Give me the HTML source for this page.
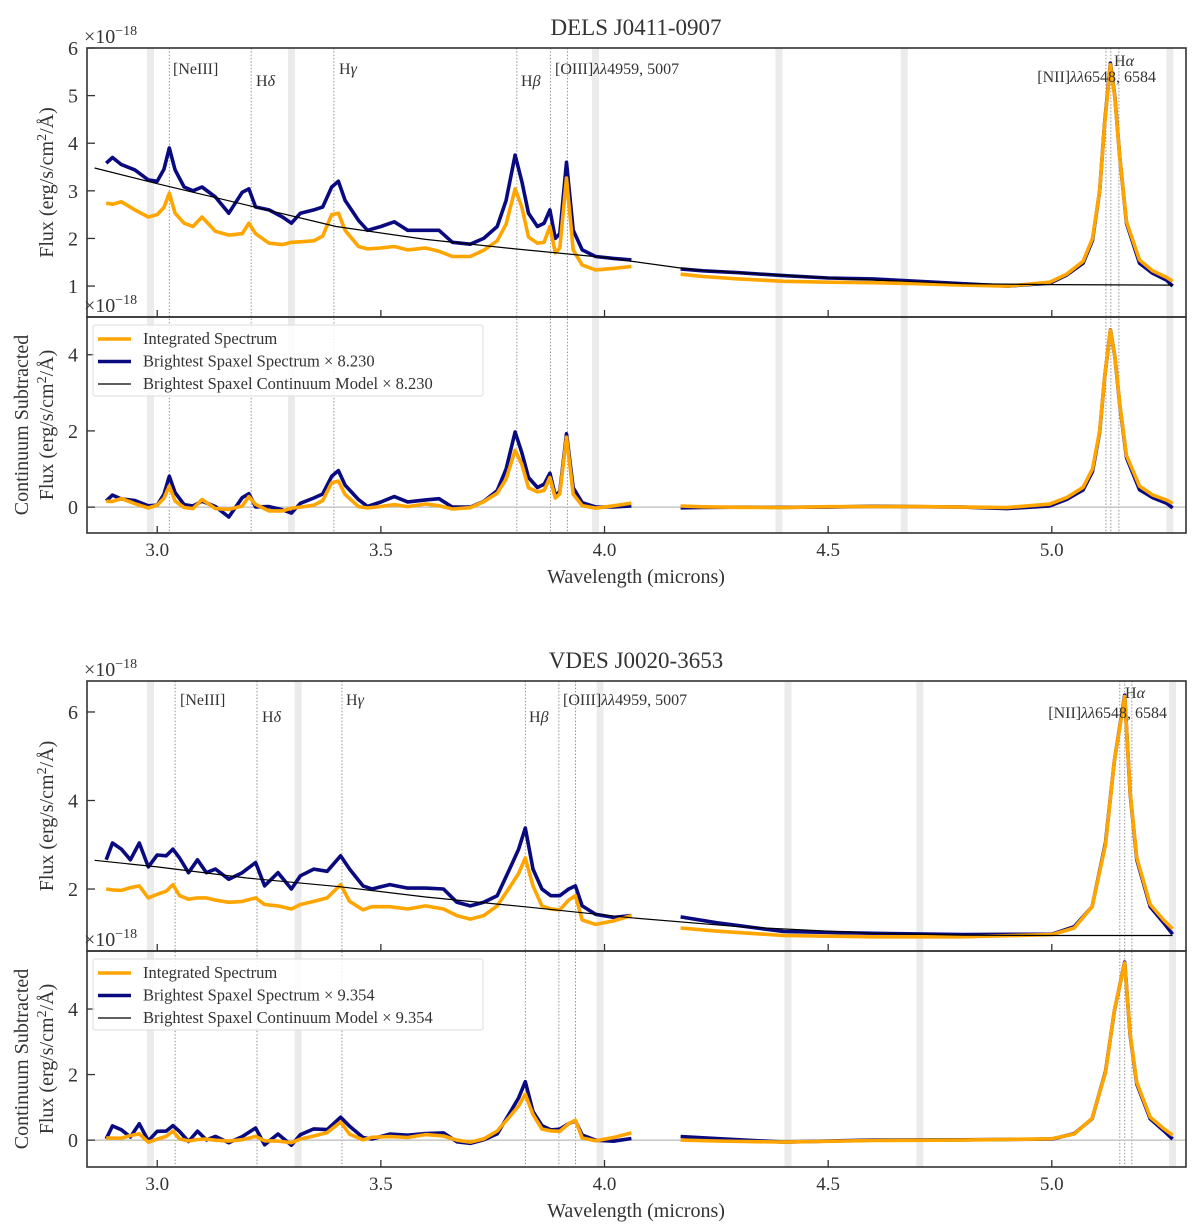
<!DOCTYPE html>
<html><head><meta charset="utf-8"><style>
html,body{margin:0;padding:0;background:#fff}
svg{display:block}
text{font-family:"Liberation Serif","DejaVu Serif",serif;fill:#333}
</style></head><body>
<svg id="chart" width="1200" height="1226" viewBox="0 0 1200 1226" xmlns="http://www.w3.org/2000/svg"></svg>
<script>
// ---------- Figure 1: DELS J0411-0907 ----------
const wl1 = [2.886,2.90,2.92,2.95,2.98,3.00,3.015,3.027,3.04,3.06,3.08,3.10,3.13,3.16,3.19,3.205,3.22,3.25,3.28,3.30,3.32,3.35,3.37,3.39,3.405,3.42,3.45,3.47,3.50,3.53,3.56,3.60,3.63,3.66,3.70,3.73,3.76,3.78,3.80,3.815,3.83,3.85,3.865,3.878,3.89,3.90,3.915,3.93,3.95,3.98,4.02,4.06,4.17,4.22,4.3,4.4,4.5,4.6,4.7,4.8,4.9,4.995,5.033,5.07,5.091,5.107,5.118,5.131,5.141,5.152,5.167,5.196,5.225,5.257,5.27];
const bright1 = [3.58,3.7,3.55,3.44,3.23,3.2,3.45,3.9,3.44,3.08,3.0,3.08,2.87,2.53,2.97,3.04,2.66,2.6,2.45,2.32,2.53,2.6,2.66,3.08,3.2,2.8,2.38,2.17,2.25,2.35,2.17,2.17,2.17,1.92,1.88,2.0,2.25,2.8,3.75,3.2,2.53,2.25,2.32,2.6,2.0,2.1,3.6,2.17,1.76,1.62,1.58,1.55,1.36,1.32,1.28,1.22,1.17,1.15,1.1,1.05,1.0,1.06,1.23,1.48,1.96,3.0,4.42,5.68,4.97,3.7,2.32,1.48,1.27,1.12,1.0];
const integ1 = [2.74,2.72,2.77,2.6,2.45,2.5,2.65,2.95,2.53,2.32,2.25,2.45,2.15,2.07,2.1,2.32,2.1,1.9,1.87,1.92,1.93,1.95,2.05,2.5,2.53,2.17,1.83,1.78,1.8,1.83,1.76,1.8,1.73,1.62,1.62,1.75,1.95,2.3,3.04,2.66,2.03,1.9,1.92,2.25,1.7,1.8,3.27,1.76,1.44,1.34,1.37,1.41,1.25,1.2,1.15,1.1,1.08,1.07,1.05,1.02,1.0,1.08,1.25,1.52,2.0,3.0,4.4,5.65,4.95,3.7,2.35,1.55,1.32,1.18,1.1];
const contWl1 = [2.86,3.0,3.2,3.4,3.6,3.8,4.0,4.2,4.5,4.8,5.0,5.27];
const contBright1 = [3.48,3.15,2.7,2.25,1.98,1.78,1.6,1.34,1.17,1.05,1.03,1.02];
const contInteg1 = [2.62,2.45,2.05,1.85,1.72,1.55,1.35,1.2,1.07,1.02,1.0,1.0];
const bands1 = [2.985,3.30,3.98,4.39,4.67,5.264];
const lines1 = [3.027,3.21,3.395,3.804,3.879,3.917,5.121,5.132,5.150];

// ---------- Figure 2: VDES J0020-3653 ----------
const wl2 = [2.886,2.90,2.92,2.94,2.96,2.98,3.00,3.02,3.035,3.05,3.07,3.09,3.11,3.13,3.16,3.19,3.22,3.24,3.27,3.30,3.32,3.35,3.38,3.41,3.43,3.46,3.48,3.52,3.56,3.60,3.64,3.67,3.70,3.73,3.76,3.79,3.808,3.823,3.84,3.86,3.88,3.90,3.92,3.935,3.95,3.98,4.02,4.06,4.17,4.25,4.4,4.6,4.8,5.0,5.05,5.09,5.12,5.14,5.163,5.175,5.19,5.22,5.25,5.27];
const bright2 = [2.66,3.04,2.9,2.66,3.04,2.5,2.77,2.75,2.9,2.7,2.37,2.66,2.37,2.45,2.22,2.37,2.6,2.07,2.37,2.0,2.3,2.45,2.4,2.75,2.45,2.07,2.0,2.1,2.02,2.02,2.0,1.7,1.62,1.7,1.85,2.5,2.9,3.38,2.45,2.0,1.85,1.85,2.0,2.07,1.62,1.43,1.36,1.4,1.37,1.24,1.04,1.0,0.97,0.98,1.15,1.6,3.04,4.9,6.38,4.17,2.66,1.6,1.24,0.98];
const integ2 = [2.0,1.98,1.97,2.03,2.07,1.8,1.88,1.95,2.1,1.85,1.77,1.8,1.8,1.75,1.7,1.72,1.8,1.65,1.62,1.55,1.65,1.72,1.8,2.1,1.72,1.53,1.6,1.6,1.55,1.62,1.55,1.4,1.32,1.4,1.62,2.07,2.35,2.7,2.07,1.62,1.55,1.53,1.75,1.85,1.3,1.2,1.28,1.4,1.12,1.05,0.95,0.92,0.92,0.97,1.12,1.6,3.0,4.9,6.35,4.2,2.7,1.65,1.3,1.1];
const contWl2 = [2.86,3.0,3.2,3.41,3.6,3.82,4.06,4.3,4.6,4.8,5.0,5.27];
const contBright2 = [2.65,2.5,2.25,2.05,1.82,1.6,1.35,1.15,1.0,0.96,0.95,0.95];
const contInteg2 = [1.95,1.85,1.7,1.55,1.45,1.3,1.18,1.05,0.93,0.92,0.93,0.95];
const bands2 = [2.985,3.315,3.99,4.41,4.705,5.27];
const lines2 = [3.04,3.223,3.413,3.823,3.898,3.935,5.152,5.163,5.179];

const xTicks = [3.0,3.5,4.0,4.5,5.0];
const xTickLabels = ["3.0","3.5","4.0","4.5","5.0"];
const GAP_START = 4.1;

const NS = "http://www.w3.org/2000/svg";
const svg = document.getElementById('chart');
function mk(tag, attrs, parent){ const e=document.createElementNS(NS,tag); for(const k in attrs) e.setAttribute(k,attrs[k]); (parent||svg).appendChild(e); return e; }
const X0=87, X1=1186, XMIN=2.843, XMAX=5.30;
function xs(w){ return X0+(w-XMIN)/(XMAX-XMIN)*(X1-X0); }
function interp(xa,ya,x){ if(x<=xa[0]) return ya[0]; for(let i=1;i<xa.length;i++){ if(x<=xa[i]){ const t=(x-xa[i-1])/(xa[i]-xa[i-1]); return ya[i-1]+t*(ya[i]-ya[i-1]); } } return ya[ya.length-1]; }
function pathFor(wl, vals, ys){ let d='', prev=null; for(let i=0;i<wl.length;i++){ const cmd=(prev===null||(prev<GAP_START&&wl[i]>GAP_START))?'M':'L'; d+=cmd+xs(wl[i]).toFixed(1)+' '+ys(vals[i]).toFixed(1)+' '; prev=wl[i]; } return d; }

function drawFigure(cfg){
  const g = mk('g',{});
  
  
  const ysT = v => cfg.top.y1-(v-cfg.top.min)/(cfg.top.max-cfg.top.min)*(cfg.top.y1-cfg.top.y0);
  const ysB = v => cfg.bot.y1-(v-cfg.bot.min)/(cfg.bot.max-cfg.bot.min)*(cfg.bot.y1-cfg.bot.y0);
  cfg.bands.forEach(b=>{ const r=mk('rect',{x:xs(b)-3.5,y:cfg.top.y0,width:7,height:cfg.bot.y1-cfg.top.y0,fill:'#ebebeb'},g);
      });
  cfg.lines.forEach(l=>{ const ln=mk('line',{x1:xs(l),x2:xs(l),y1:cfg.top.y0,y2:cfg.bot.y1,stroke:'#888','stroke-width':0.9,'stroke-dasharray':'1.5 1.8'},g);
      });
  const z=mk('line',{x1:X0,x2:X1,y1:ysB(0),y2:ysB(0),stroke:'#bbb','stroke-width':1.3},g);
   
  const pb=mk('path',{d:pathFor(cfg.wl,cfg.bright,ysT),fill:'none',stroke:'#0a0a80','stroke-width':3.6,'stroke-linejoin':'round'},g);
   
  const po=mk('path',{d:pathFor(cfg.wl,cfg.integ,ysT),fill:'none',stroke:'#ffa500','stroke-width':3.6,'stroke-linejoin':'round'},g);
   
  let cd=''; cfg.contWl.forEach((w,i)=>{ cd+=(i?'L':'M')+xs(w).toFixed(1)+' '+ysT(cfg.contB[i]).toFixed(1)+' '; });
  const pc=mk('path',{d:cd,fill:'none',stroke:'#000','stroke-width':1.2},g);
   
  const rb = cfg.wl.map((w,i)=>cfg.bright[i]-interp(cfg.contWl,cfg.contB,w));
  const ro = cfg.wl.map((w,i)=>cfg.integ[i]-interp(cfg.contWl,cfg.contI,w));
  const rpb=mk('path',{d:pathFor(cfg.wl,rb,ysB),fill:'none',stroke:'#0a0a80','stroke-width':3.6,'stroke-linejoin':'round'},g);
   
  const rpo=mk('path',{d:pathFor(cfg.wl,ro,ysB),fill:'none',stroke:'#ffa500','stroke-width':3.6,'stroke-linejoin':'round'},g);
   
  [cfg.top,cfg.bot].forEach((p,pi)=>{
    const r=mk('rect',{x:X0,y:p.y0,width:X1-X0,height:p.y1-p.y0,fill:'none',stroke:'#333','stroke-width':1.6},g);
     
    xTicks.forEach(t=>{ mk('line',{x1:xs(t),x2:xs(t),y1:p.y1,y2:p.y1-7,stroke:'#333','stroke-width':1.3},g); });
    const ysF = pi? ysB: ysT;
    p.ticks.forEach(t=>{ mk('line',{x1:X0,x2:X0+8,y1:ysF(t),y2:ysF(t),stroke:'#333','stroke-width':1.3},g);
      const tl=mk('text',{x:X0-9,y:ysF(t)+7,'text-anchor':'end','font-size':20},g); tl.textContent=String(t);
        });
    const off=mk('text',{x:X0-3,y:p.y0-5,'font-size':20},g);
    off.innerHTML='×10<tspan dy="-8" font-size="14">−18</tspan>';
     
  });
  xTicks.forEach((t,i)=>{ const tl=mk('text',{x:xs(t),y:cfg.bot.y1+23,'text-anchor':'middle','font-size':19},g); tl.textContent=xTickLabels[i];
      });
  const xl=mk('text',{x:636,y:cfg.bot.y1+50,'text-anchor':'middle','font-size':20},g); xl.textContent='Wavelength (microns)';
   
  const tt=mk('text',{x:636,y:cfg.top.y0-13,'text-anchor':'middle','font-size':23},g); tt.textContent=cfg.title;
   
  const yc=(cfg.top.y0+cfg.top.y1)/2;
  const yl=mk('text',{x:0,y:0,'text-anchor':'middle','font-size':20,transform:`translate(53 ${yc}) rotate(-90)`},g);
  yl.innerHTML='Flux (erg/s/cm<tspan dy="-7" font-size="14">2</tspan><tspan dy="7">/Å)</tspan>';
   
  const yb=(cfg.bot.y0+cfg.bot.y1)/2;
  const yl2=mk('text',{x:0,y:0,'text-anchor':'middle','font-size':20,transform:`translate(28 ${yb}) rotate(-90)`},g);
  yl2.textContent='Continuum Subtracted';
   
  const yl3=mk('text',{x:0,y:0,'text-anchor':'middle','font-size':20,transform:`translate(53 ${yb}) rotate(-90)`},g);
  yl3.innerHTML='Flux (erg/s/cm<tspan dy="-7" font-size="14">2</tspan><tspan dy="7">/Å)</tspan>';
   
  cfg.labels.forEach(L=>{ const t=mk('text',{x:L[1],y:L[2],'font-size':16,'text-anchor':L[3]||'start'},g); t.innerHTML=L[0];
      });
  const ly=cfg.bot.y0+8;
  const lg=mk('g',{},g);  
  mk('rect',{x:93,y:ly,width:390,height:71,fill:'#fff','fill-opacity':0.85,stroke:'#ddd','stroke-width':1,rx:2},lg);
  const ent=[['#ffa500',3.6,'Integrated Spectrum'],['#0a0a80',3.6,'Brightest Spaxel Spectrum × '+cfg.scale],['#000',1.2,'Brightest Spaxel Continuum Model × '+cfg.scale]];
  ent.forEach((e,i)=>{ const yy=ly+14+i*22.5;
    const eg=mk('g',{},lg);  
    mk('line',{x1:98,x2:131,y1:yy,y2:yy,stroke:e[0],'stroke-width':e[1]},eg);
    const t=mk('text',{x:143,y:yy+5,'font-size':16.5},eg); t.textContent=e[2]; });
}

drawFigure({name:'figure-dels-j0411', title:'DELS J0411-0907', wl:wl1, bright:bright1, integ:integ1, contWl:contWl1, contB:contBright1, contI:contInteg1, bands:bands1, lines:lines1, scale:'8.230',
  top:{y0:48,y1:317,min:0.35,max:6,ticks:[1,2,3,4,5,6]}, bot:{y0:317,y1:533,min:-0.68,max:4.99,ticks:[0,2,4]},
  labels:[['[NeIII]',173,74],['H<tspan font-style="italic">δ</tspan>',256,86],['H<tspan font-style="italic">γ</tspan>',339,74],['H<tspan font-style="italic">β</tspan>',521,86],['[OIII]<tspan font-style="italic">λλ</tspan>4959, 5007',555,74],['H<tspan font-style="italic">α</tspan>',1114,66],['[NII]<tspan font-style="italic">λλ</tspan>6548, 6584',1156,82,'end']]});
drawFigure({name:'figure-vdes-j0020', title:'VDES J0020-3653', wl:wl2, bright:bright2, integ:integ2, contWl:contWl2, contB:contBright2, contI:contInteg2, bands:bands2, lines:lines2, scale:'9.354',
  top:{y0:681,y1:951,min:0.6,max:6.7,ticks:[2,4,6]}, bot:{y0:951,y1:1167,min:-0.82,max:5.77,ticks:[0,2,4]},
  labels:[['[NeIII]',180,705],['H<tspan font-style="italic">δ</tspan>',262,722],['H<tspan font-style="italic">γ</tspan>',346,705],['H<tspan font-style="italic">β</tspan>',529,722],['[OIII]<tspan font-style="italic">λλ</tspan>4959, 5007',563,705],['H<tspan font-style="italic">α</tspan>',1125,698],['[NII]<tspan font-style="italic">λλ</tspan>6548, 6584',1167,718,'end']]});
</script>
</body></html>
